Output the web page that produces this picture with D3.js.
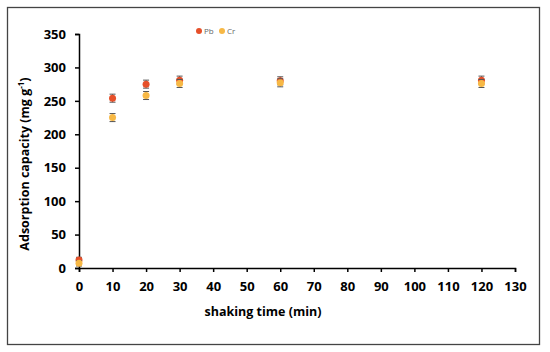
<!DOCTYPE html>
<html><head><meta charset="utf-8">
<script src="https://cdn.jsdelivr.net/npm/d3@7"></script>
<style>body{margin:0;background:#fff}text{font-family:"Open Sans",sans-serif}</style>
</head><body><svg id="c" width="550" height="352"></svg>
<script>
const times = [0, 10, 20, 30, 60, 120];
const pb = [12, 254, 275, 281, 280, 281];
const pbErr = [4, 6, 6, 6, 6, 6];
const cr = [7, 225, 258, 276, 277, 276];
const crErr = [4, 6, 6, 6, 6, 6];
const xTicks = d3.range(0, 131, 10);
const yTicks = d3.range(0, 351, 50);
const seriesNames = ["Pb", "Cr"];
const colors = ["#e6502a", "#f7b845"];

const svg = d3.select("#c");
svg.append("rect").attr("x",7.5).attr("y",7.5).attr("width",532).attr("height",337)
  .attr("fill","#fff").attr("stroke","#444").attr("stroke-width",1.3);

const x = d3.scaleLinear().domain([0,130]).range([79,515]);
const y = d3.scaleLinear().domain([0,350]).range([268,34]);

const xa = svg.append("g").attr("transform","translate(0,268)")
  .call(d3.axisBottom(x).tickValues(xTicks).tickSize(4).tickPadding(10));
const ya = svg.append("g").attr("transform","translate(79,0)")
  .call(d3.axisLeft(y).tickValues(yTicks).tickSize(4).tickPadding(9));
[xa,ya].forEach(a=>{
  a.selectAll("path,line").attr("stroke","#000").attr("stroke-width",1.5);
  a.selectAll("text").attr("font-size",13).attr("font-weight","bold").attr("fill","#000");
});

svg.append("text").attr("x",263).attr("y",316).attr("text-anchor","middle")
  .attr("font-size",12.5).attr("font-weight","bold").text("shaking time (min)");
const yt = svg.append("text").attr("transform","translate(29,164) rotate(-90)")
  .attr("text-anchor","middle").attr("font-size",12.5).attr("font-weight","bold");
yt.append("tspan").text("Adsorption capacity (mg g");
yt.append("tspan").attr("font-size",8).attr("dy",-5).text("-1");
yt.append("tspan").attr("dy",5).text(")");

const data = [[pb,pbErr],[cr,crErr]];
data.forEach(([vals,errs],si)=>{
  const g = svg.append("g");
  times.forEach((t,i)=>{
    const cx = x(t);
    g.append("line").attr("x1",cx).attr("x2",cx).attr("y1",y(vals[i]-errs[i])).attr("y2",y(vals[i]+errs[i]))
      .attr("stroke","#555").attr("stroke-width",1);
    [vals[i]-errs[i], vals[i]+errs[i]].forEach(v=>{
      g.append("line").attr("x1",cx-3).attr("x2",cx+3).attr("y1",y(v)).attr("y2",y(v))
        .attr("stroke","#555").attr("stroke-width",1);
    });
  });
  g.selectAll("circle").data(vals).join("circle")
    .attr("cx",(d,i)=>x(times[i])).attr("cy",d=>y(d)).attr("r",3.5).attr("fill",colors[si]);
});

// legend
const lx = [199, 222];
seriesNames.forEach((n,i)=>{
  svg.append("circle").attr("cx",lx[i]).attr("cy",31).attr("r",3).attr("fill",colors[i]);
  svg.append("text").attr("x",lx[i]+5).attr("y",34).attr("font-size",8).attr("fill","#666").text(n);
});
</script></body></html>
